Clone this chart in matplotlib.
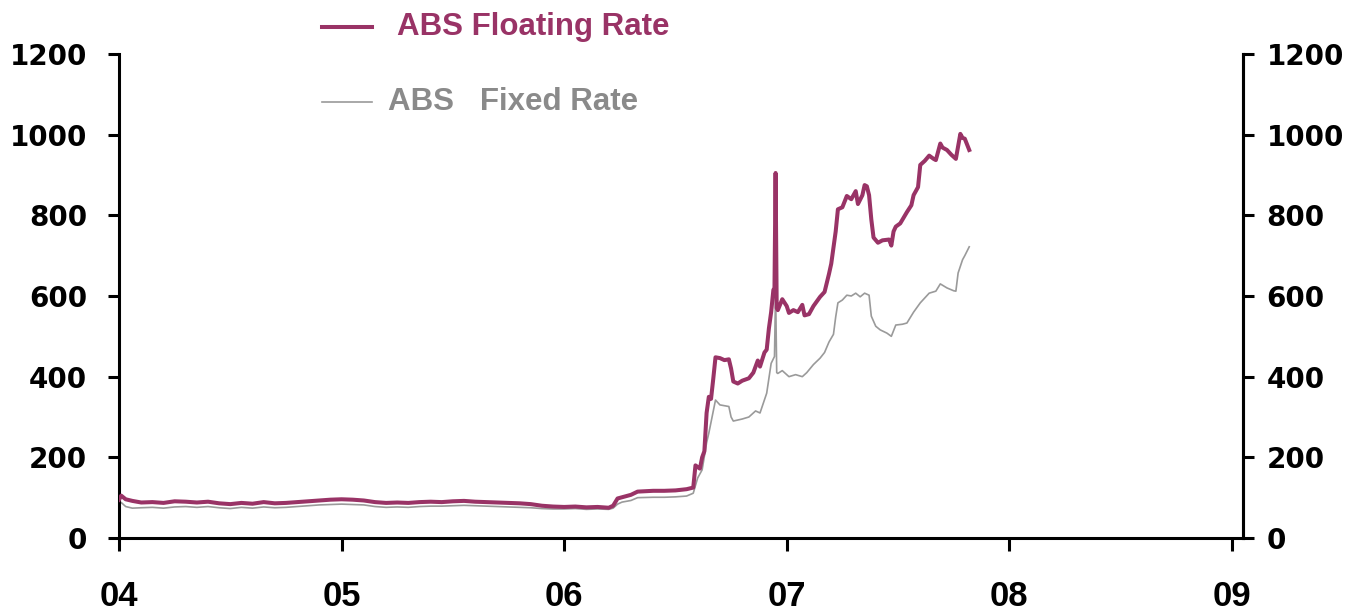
import matplotlib
matplotlib.use("Agg")
import matplotlib.pyplot as plt
from matplotlib.lines import Line2D

# ---- data (decimal years, values) ----
floating_t = [2004.00, 2004.01, 2004.03, 2004.06, 2004.10, 2004.15, 2004.20, 2004.25, 2004.30, 2004.35,
              2004.40, 2004.45, 2004.50, 2004.55, 2004.60, 2004.65, 2004.70, 2004.75, 2004.80, 2004.85,
              2004.90, 2004.95, 2005.00, 2005.05, 2005.10, 2005.15, 2005.20, 2005.25, 2005.30, 2005.35,
              2005.40, 2005.45, 2005.50, 2005.55, 2005.60, 2005.65, 2005.70, 2005.75, 2005.80, 2005.85,
              2005.90, 2005.95, 2006.00, 2006.05, 2006.10, 2006.15, 2006.20, 2006.22, 2006.24, 2006.26,
              2006.30, 2006.33, 2006.40, 2006.45, 2006.50, 2006.55, 2006.58, 2006.59, 2006.61, 2006.62,
              2006.63, 2006.64, 2006.65, 2006.66, 2006.67, 2006.68, 2006.70, 2006.72, 2006.74, 2006.75,
              2006.76, 2006.78, 2006.80, 2006.83, 2006.85, 2006.87, 2006.88, 2006.90, 2006.91, 2006.92,
              2006.93, 2006.94, 2006.945, 2006.95, 2006.955, 2006.96, 2006.98, 2007.00, 2007.01, 2007.03,
              2007.05, 2007.07, 2007.08, 2007.10, 2007.12, 2007.15, 2007.17, 2007.19, 2007.20, 2007.21,
              2007.22, 2007.23, 2007.25, 2007.27, 2007.29, 2007.31, 2007.32, 2007.34, 2007.35, 2007.36,
              2007.37, 2007.38, 2007.39, 2007.41, 2007.43, 2007.46, 2007.47, 2007.48, 2007.49, 2007.51,
              2007.54, 2007.56, 2007.57, 2007.59, 2007.60, 2007.62, 2007.64, 2007.66, 2007.67, 2007.69,
              2007.70, 2007.72, 2007.74, 2007.76, 2007.78, 2007.79, 2007.80, 2007.82]
floating_v = [95, 105, 96, 92, 88, 89, 87, 91, 90, 88,
              90, 86, 84, 87, 85, 89, 86, 87, 89, 91,
              93, 95, 96, 95, 93, 89, 87, 88, 87, 89,
              90, 89, 91, 92, 90, 89, 88, 87, 86, 84,
              80, 78, 77, 78, 76, 77, 75, 80, 98, 101,
              107, 115, 117, 117, 118, 121, 125, 180, 172, 200,
              215, 310, 350, 345, 395, 448, 446, 441, 443, 420,
              388, 383, 390, 396, 410, 440, 425, 460, 467, 520,
              560, 615, 620, 905, 570, 565, 592, 575, 558, 565,
              560, 578, 552, 555, 575, 598, 610, 655, 680, 720,
              760, 815, 820, 848, 840, 860, 828, 850, 875, 872,
              850, 790, 745, 732, 738, 740, 725, 760, 772, 780,
              808, 825, 850, 870, 925, 935, 948, 940, 937, 978,
              968, 962, 950, 940, 1002, 992, 990, 962]

fixed_t = [2004.00, 2004.01, 2004.03, 2004.06, 2004.10, 2004.15, 2004.20, 2004.25, 2004.30, 2004.35,
           2004.40, 2004.45, 2004.50, 2004.55, 2004.60, 2004.65, 2004.70, 2004.75, 2004.80, 2004.85,
           2004.90, 2004.95, 2005.00, 2005.05, 2005.10, 2005.15, 2005.20, 2005.25, 2005.30, 2005.35,
           2005.40, 2005.45, 2005.50, 2005.55, 2005.60, 2005.65, 2005.70, 2005.75, 2005.80, 2005.85,
           2005.90, 2005.95, 2006.00, 2006.05, 2006.10, 2006.15, 2006.20, 2006.22, 2006.24, 2006.26,
           2006.30, 2006.33, 2006.40, 2006.45, 2006.50, 2006.55, 2006.58, 2006.60, 2006.62, 2006.64,
           2006.65, 2006.68, 2006.70, 2006.74, 2006.75, 2006.76, 2006.80, 2006.83, 2006.86, 2006.88,
           2006.91, 2006.93, 2006.945, 2006.95, 2006.955, 2006.96, 2006.98, 2007.01, 2007.04, 2007.07,
           2007.09, 2007.12, 2007.15, 2007.17, 2007.19, 2007.21, 2007.22, 2007.23, 2007.25, 2007.27,
           2007.29, 2007.31, 2007.33, 2007.35, 2007.37, 2007.38, 2007.40, 2007.42, 2007.45, 2007.47,
           2007.49, 2007.52, 2007.54, 2007.57, 2007.60, 2007.62, 2007.64, 2007.67, 2007.69, 2007.72,
           2007.75, 2007.76, 2007.77, 2007.79, 2007.80, 2007.82]
fixed_v = [80, 88, 78, 74, 75, 76, 74, 77, 78, 76,
           78, 75, 73, 76, 74, 77, 75, 76, 78, 80,
           82, 83, 84, 83, 82, 78, 76, 77, 76, 78,
           79, 79, 80, 81, 80, 79, 78, 77, 76, 75,
           73, 72, 72, 73, 71, 72, 71, 74, 84, 89,
           93, 100, 101, 101, 102, 104, 111, 149, 169, 236,
           260, 342, 330, 326, 300, 290, 295, 300, 315, 310,
           359, 433, 450, 615, 410, 408, 415, 400, 405, 400,
           410, 430, 446, 460, 486, 505, 548, 583, 590, 602,
           600, 607, 598, 607, 602, 550, 525, 516, 508, 500,
           528, 530, 533, 560, 583, 595, 607, 612, 630, 620,
           613, 612, 657, 690, 700, 722]

x_ticks = [2004, 2005, 2006, 2007, 2008, 2009]
x_labels = ["04", "05", "06", "07", "08", "09"]
y_ticks = [0, 200, 400, 600, 800, 1000, 1200]

FLOAT_COLOR = "#993366"
FIXED_COLOR = "#9a9a9a"
FIXED_TEXT = "#8a8a8a"

plt.rcParams['font.family'] = ['Liberation Sans', 'DejaVu Sans']

fig = plt.figure(figsize=(13.58, 6.10), dpi=100)
ax = fig.add_axes([119/1358, 1-538/610, (1243-119)/1358, (538-54)/610])

ax.plot(fixed_t, fixed_v, color=FIXED_COLOR, lw=1.2, zorder=2)
ax.plot(floating_t, floating_v, color=FLOAT_COLOR, lw=2.9, zorder=3)

ax.set_xlim(2004, 2009.05)
ax.set_ylim(0, 1200)
ax.set_xticks(x_ticks)
ax.set_xticklabels(x_labels)
ax.set_yticks(y_ticks)

ax.spines['top'].set_visible(False)
for s in ['left', 'right', 'bottom']:
    ax.spines[s].set_linewidth(2.2)
    ax.spines[s].set_color('black')

ax.tick_params(axis='y', direction='out', length=8, width=2.2, pad=15)
ax.tick_params(axis='x', direction='out', length=9, width=2.2, pad=21)
for lab in ax.get_yticklabels():
    lab.set_family('DejaVu Sans')
    lab.set_fontweight('bold')
    lab.set_fontsize(20)
for lab in ax.get_xticklabels():
    lab.set_fontweight('bold')
    lab.set_fontsize(25)
    lab.set_family('Liberation Sans')

# right axis mirrors the left scale
ax2 = ax.twinx()
ax2.set_ylim(ax.get_ylim())
ax2.set_yticks(y_ticks)
for s in ['left', 'top', 'bottom']:
    ax2.spines[s].set_visible(False)
ax2.spines['right'].set_linewidth(2.2)
ax2.tick_params(axis='y', direction='out', length=8, width=2.2, pad=9)
for lab in ax2.get_yticklabels():
    lab.set_family('DejaVu Sans')
    lab.set_fontweight('bold')
    lab.set_fontsize(20)

# legend drawn manually
fig.add_artist(Line2D([322/1358, 372/1358], [1-27/610, 1-27/610], color=FLOAT_COLOR, lw=2.9,
                      transform=fig.transFigure))
fig.text(397/1358, 1-27/610, "ABS Floating Rate", color=FLOAT_COLOR, fontsize=22.5,
         fontweight='bold', va='center', ha='left')
fig.add_artist(Line2D([322/1358, 372/1358], [1-102/610, 1-102/610], color=FIXED_COLOR, lw=1.2,
                      transform=fig.transFigure))
fig.text(388/1358, 1-102/610, "ABS   Fixed Rate", color=FIXED_TEXT, fontsize=22.5,
         fontweight='bold', va='center', ha='left')

fig.savefig("out.png", dpi=100)
